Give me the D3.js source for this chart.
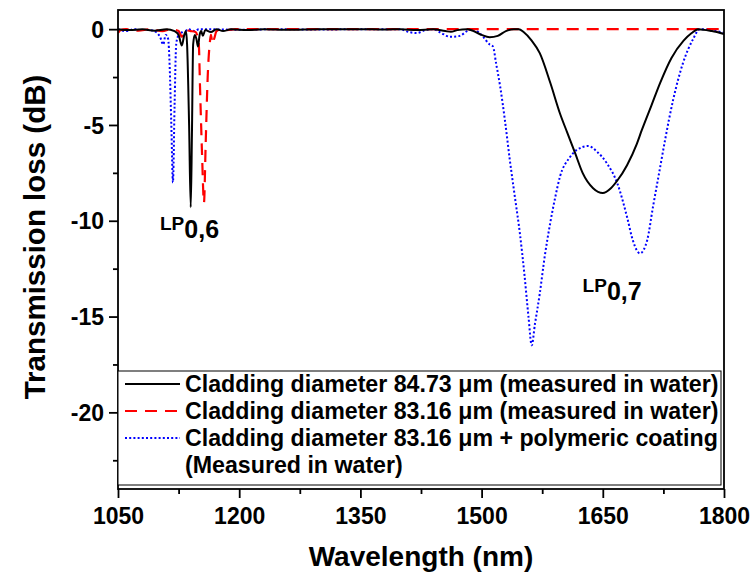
<!DOCTYPE html>
<html>
<head>
<meta charset="utf-8">
<script src="https://cdn.jsdelivr.net/npm/d3@7"></script>
<style>
  body { margin: 0; background: #fff; }
  svg text { font-family: "Liberation Sans", Arial, sans-serif; font-weight: bold; fill: #000; }
</style>
</head>
<body>
<div id="chart"></div>
<script>
// cladding 84.73 um, measured in water  [wavelength nm, loss dB]
var black84 = [
  [1050,0],[1065,-0.05],[1080,0],[1095,-0.08],[1110,0],[1120,-0.1],[1125,-0.3],[1129,-0.85],
  [1132,-0.3],[1134,-0.1],[1135.5,-0.8],[1138,-5],[1140,-9.3],[1141.5,-5.5],[1143,-0.8],[1145,-0.3],
  [1147,-0.5],[1149,-0.9],[1151,-0.3],[1153,-0.1],[1155,-0.35],[1158,-0.05],[1165,-0.15],[1172,0],
  [1180,-0.1],[1190,0],[1210,-0.05],[1230,0],[1260,-0.03],[1300,0],[1350,0],[1380,-0.02],[1400,0],
  [1420,-0.05],[1440,0],[1455,-0.1],[1462,-0.14],[1470,-0.05],[1482,0],[1490,-0.1],[1500,-0.3],
  [1510,-0.42],[1520,-0.35],[1530,-0.1],[1540,0],[1546,0],[1552,-0.15],[1562,-0.6],[1572,-1.25],
  [1585,-2.8],[1597,-4.4],[1606,-5.4],[1616,-6.5],[1625,-7.5],[1638,-8.3],[1650,-8.55],[1660,-8.3],
  [1668,-7.9],[1680,-7.1],[1692,-6.0],[1698,-5.3],[1710,-4.0],[1721,-2.8],[1735,-1.5],[1750,-0.6],
  [1760,-0.2],[1768,0],[1785,-0.1],[1800,-0.25]
];
// cladding 83.16 um, measured in water
var red83 = [
  [1050,-0.2],[1053,-0.05],[1060,0],[1075,-0.08],[1090,0],[1105,-0.1],[1115,0],[1125,-0.1],
  [1129,-0.4],[1132,-0.05],[1140,-0.1],[1146,-0.15],[1150,-0.8],[1151.5,-3],[1154,-6.5],
  [1156.4,-9.05],[1158.5,-6],[1161,-2.5],[1163.9,-0.6],[1165,-0.3],[1167,-0.75],[1169,-0.5],
  [1172,-0.1],[1178,0],[1185,-0.05],[1195,0],[1300,0],[1450,0],[1600,0],[1800,0]
];
// cladding 83.16 um + polymeric coating, measured in water
var blue83c = [
  [1050,0],[1060,-0.1],[1070,0],[1080,-0.05],[1090,-0.05],[1097,-0.15],[1102,-0.4],[1106,-0.8],
  [1109,-0.3],[1112,-0.5],[1114,-2],[1116,-5],[1118,-8.0],[1120,-4],[1122,-0.8],[1124,-0.4],
  [1127,-0.1],[1132,-0.3],[1136,0],[1145,-0.1],[1150,0],[1200,-0.03],[1250,0],[1300,-0.02],
  [1350,0],[1399,0],[1410,-0.15],[1420,-0.2],[1430,-0.05],[1440,0],[1450,-0.2],[1461,-0.4],
  [1473,-0.35],[1482,-0.1],[1489,0],[1496,-0.15],[1502,-0.4],[1510,-0.8],[1514,-0.9],[1518,-1.8],
  [1523,-3.0],[1529,-4.8],[1535,-6.85],[1541,-8.7],[1547.5,-10.7],[1553,-12.8],[1558,-15.0],
  [1562,-16.5],[1566,-15.4],[1572,-13.8],[1578,-11.9],[1585,-10.1],[1591,-8.8],[1597,-7.7],
  [1609,-6.7],[1618,-6.3],[1632,-6.1],[1643,-6.4],[1655,-7.0],[1668,-8.05],[1680,-9.8],[1687,-11.0],
  [1696,-11.7],[1705,-11.0],[1712,-9.3],[1721,-7.2],[1727,-5.8],[1737,-3.7],[1749,-1.8],[1762,-0.5],
  [1770,0],[1785,-0.05],[1800,-0.2]
];

var xTicks = [1050,1200,1350,1500,1650,1800];
var yTicks = [0,-5,-10,-15,-20];
var legendLabels = [
  "Cladding diameter 84.73 \u03bcm (measured in water)",
  "Cladding diameter 83.16 \u03bcm (measured in water)",
  "Cladding diameter 83.16 \u03bcm + polymeric coating",
  "(Measured in water)"
];
var modeLabels = [
  {name:"LP", sub:"0,6", wl:1102, db:-10.5},
  {name:"LP", sub:"0,7", wl:1625, db:-13.7}
];

var width = 752, height = 577;
var pLeft = 118, pRight = 724, pTop = 10, pBottom = 489;

var svg = d3.select("#chart")
    .append("svg")
    .attr("width",width)
    .attr("height",height);

var xScale = d3.scaleLinear().domain([1050,1800]).range([pLeft,pRight]);
var yScale = d3.scaleLinear().domain([-24,1]).range([pBottom,pTop]);

svg.append("defs").append("clipPath")
    .attr("id","plotclip")
    .append("rect")
    .attr("x",pLeft).attr("y",pTop)
    .attr("width",pRight-pLeft).attr("height",pBottom-pTop);

var line = d3.line()
    .x(function(d){return xScale(d[0])})
    .y(function(d){return yScale(d[1])})
    .curve(d3.curveMonotoneX);

var series = [
  {data:blue83c, color:"#0000ff", dash:"2,2.2", w:2},
  {data:red83, color:"#ff0000", dash:"12,8", w:2.2},
  {data:black84, color:"#000000", dash:null, w:2}
];
series.forEach(function(s){
  svg.append("path")
      .datum(s.data)
      .attr("clip-path","url(#plotclip)")
      .attr("fill","none")
      .attr("stroke",s.color)
      .attr("stroke-width",s.w)
      .attr("stroke-dasharray",s.dash)
      .attr("d",line);
});

// frame
svg.append("rect")
    .attr("x",pLeft).attr("y",pTop)
    .attr("width",pRight-pLeft).attr("height",pBottom-pTop)
    .attr("fill","none").attr("stroke","#000").attr("stroke-width",1.8);

// minor ticks
var minorX = d3.range(1125,1800,150);
var minorY = d3.range(-2.5,-24,-5);
svg.append("g")
    .attr("transform","translate(0,"+pBottom+")")
    .call(d3.axisBottom(xScale).tickValues(minorX).tickSize(5).tickFormat(""))
    .call(function(g){g.select(".domain").remove()})
    .selectAll("line").attr("stroke-width",1.8);
svg.append("g")
    .attr("transform","translate("+pLeft+",0)")
    .call(d3.axisLeft(yScale).tickValues(minorY).tickSize(5).tickFormat(""))
    .call(function(g){g.select(".domain").remove()})
    .selectAll("line").attr("stroke-width",1.8);

// major ticks
var gx = svg.append("g")
    .attr("transform","translate(0,"+pBottom+")")
    .call(d3.axisBottom(xScale).tickValues(xTicks).tickSize(9).tickPadding(10).tickFormat(function(d){return String(d)}));
gx.select(".domain").remove();
gx.selectAll("line").attr("stroke-width",1.8);
gx.selectAll("text").attr("font-size",23);

var gy = svg.append("g")
    .attr("transform","translate("+pLeft+",0)")
    .call(d3.axisLeft(yScale).tickValues(yTicks).tickSize(9).tickPadding(5).tickFormat(function(d){return String(d)}));
gy.select(".domain").remove();
gy.selectAll("line").attr("stroke-width",1.8);
gy.selectAll("text").attr("font-size",23).attr("dy","0.35em");

// axis titles
svg.append("text")
    .attr("x",(pLeft+pRight)/2).attr("y",566)
    .attr("text-anchor","middle")
    .attr("font-size",28)
    .text("Wavelength (nm)");
svg.append("text")
    .attr("transform","translate(45,237) rotate(-90)")
    .attr("text-anchor","middle")
    .attr("font-size",29.5)
    .text("Transmission loss (dB)");

// mode labels
modeLabels.forEach(function(m){
  var t = svg.append("text")
      .attr("x",xScale(m.wl)).attr("y",yScale(m.db));
  t.append("tspan").attr("font-size",19).text(m.name);
  t.append("tspan").attr("font-size",25).attr("dy",8).text(m.sub);
});

// legend
var legend = svg.append("g");
legend.append("rect")
    .attr("x",pLeft).attr("y",371)
    .attr("width",603).attr("height",114)
    .attr("fill","#fff").attr("stroke","#000").attr("stroke-width",1);
var rowY = [384,411,438,465];
series.slice().reverse().forEach(function(s,i){
  legend.append("line")
      .attr("x1",125).attr("x2",180)
      .attr("y1",rowY[i]).attr("y2",rowY[i])
      .attr("stroke",s.color)
      .attr("stroke-width",s.w)
      .attr("stroke-dasharray",s.dash);
});
legendLabels.forEach(function(l,i){
  legend.append("text")
      .attr("x",185).attr("y",rowY[i])
      .attr("dy","0.35em")
      .attr("font-size",23.2)
      .text(l);
});
</script>
</body>
</html>
